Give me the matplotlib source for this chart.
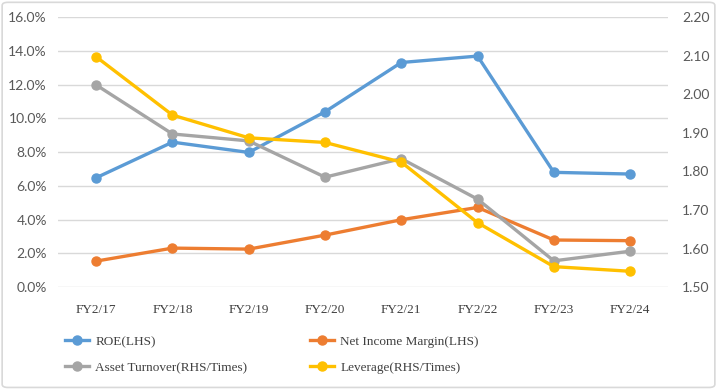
import matplotlib.pyplot as plt
from matplotlib.patches import FancyBboxPatch
from matplotlib.ticker import FuncFormatter

years = ['FY2/17', 'FY2/18', 'FY2/19', 'FY2/20', 'FY2/21', 'FY2/22', 'FY2/23', 'FY2/24']
roe = [6.48, 8.59, 7.98, 10.39, 13.31, 13.69, 6.80, 6.70]
net_margin = [1.54, 2.31, 2.25, 3.08, 3.99, 4.72, 2.79, 2.75]
asset_turnover = [2.024, 1.897, 1.879, 1.785, 1.833, 1.728, 1.568, 1.593]
leverage = [2.097, 1.946, 1.887, 1.875, 1.824, 1.667, 1.553, 1.541]

c_roe = '#5B9BD5'
c_nim = '#ED7D31'
c_at = '#A5A5A5'
c_lev = '#FFC000'
tick_col = '#595959'

fig = plt.figure(figsize=(7.17, 3.89), dpi=100)
fig.patches.append(FancyBboxPatch((0.003, 0.004), 0.994, 0.99, boxstyle='round,pad=0,rounding_size=0.008',
                                  transform=fig.transFigure, fill=False, edgecolor='#D9D9D9', linewidth=1.2))
ax = fig.add_axes([0.081, 0.262, 0.851, 0.694])
ax2 = ax.twinx()

x = range(len(years))
lw = 2.4
ms = 6.5
l1, = ax.plot(x, roe, color=c_roe, lw=lw, marker='o', ms=ms, label='ROE(LHS)')
l2, = ax.plot(x, net_margin, color=c_nim, lw=lw, marker='o', ms=ms, label='Net Income Margin(LHS)')
l3, = ax2.plot(x, asset_turnover, color=c_at, lw=lw, marker='o', ms=ms, label='Asset Turnover(RHS/Times)')
l4, = ax2.plot(x, leverage, color=c_lev, lw=lw, marker='o', ms=ms, label='Leverage(RHS/Times)')

ax.set_xlim(-0.5, len(years) - 0.5)
ax.set_ylim(0, 16)
ax.set_yticks([0, 2, 4, 6, 8, 10, 12, 14, 16])
ax.yaxis.set_major_formatter(FuncFormatter(lambda v, p: f'{v:.1f}%'))
ax2.set_ylim(1.5, 2.2)
ax2.set_yticks([1.5, 1.6, 1.7, 1.8, 1.9, 2.0, 2.1, 2.2])
ax2.yaxis.set_major_formatter(FuncFormatter(lambda v, p: f'{v:.2f}'))

ax.grid(axis='y', color='#D9D9D9', lw=1)
ax.set_axisbelow(True)
for a in (ax, ax2):
    for s in a.spines.values():
        s.set_visible(False)
    a.tick_params(length=0)
ax.set_xticks(list(x))
ax.set_xticklabels(years, fontfamily='Liberation Serif', fontsize=9.5, color='#404040')
ax.tick_params(axis='x', pad=12)
for lab in ax.get_yticklabels() + ax2.get_yticklabels():
    lab.set_fontfamily('Lato')
    lab.set_fontsize(10)
    lab.set_color(tick_col)
ax.tick_params(axis='y', pad=8)
ax2.tick_params(axis='y', pad=10)

leg_kw = dict(loc='upper left', frameon=False, prop={'family': 'Liberation Serif', 'size': 9.5},
              handlelength=1.8, labelspacing=1.05, handletextpad=0.5, borderpad=0, borderaxespad=0)
leg1 = fig.legend(handles=[l1, l3], bbox_to_anchor=(65 / 717, 0.137), **leg_kw)
leg2 = fig.legend(handles=[l2, l4], bbox_to_anchor=(310 / 717, 0.137), **leg_kw)
for leg in (leg1, leg2):
    for t in leg.get_texts():
        t.set_color('#404040')

fig.savefig('out.png', dpi=100)
